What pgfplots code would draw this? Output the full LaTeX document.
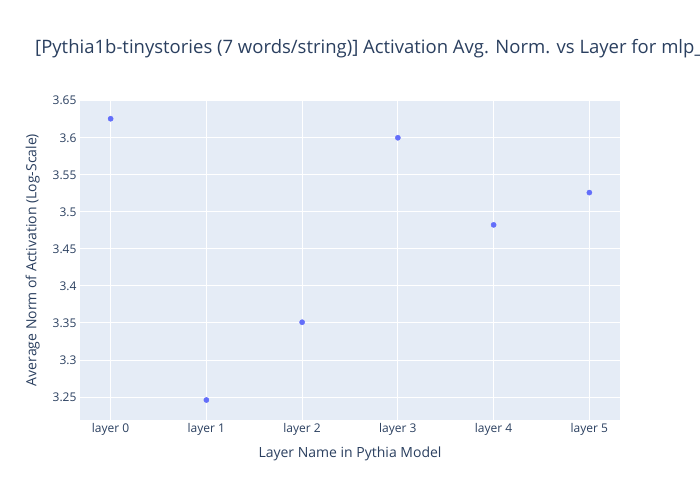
\documentclass[border=0pt]{standalone}
\usepackage{pgfplots}
\pgfplotsset{compat=1.18}
\usepackage{fontspec}
\setmainfont{Open Sans}
\definecolor{bg}{HTML}{E5ECF6}
\definecolor{pt}{HTML}{636EFA}
\definecolor{tx}{HTML}{2A3F5F}
\begin{document}
\begin{tikzpicture}[x=1pt,y=1pt]
\path[use as bounding box] (-80,-80) rectangle (620,420);
\clip (-80,-80) rectangle (620,420);
\node[anchor=base west,text=tx,font=\fontsize{18.5}{21}\selectfont,inner sep=0] at (-45,366) {[Pythia1b-tinystories (7 words/string)] Activation Avg. Norm. vs Layer for mlp\_out};
\begin{axis}[at={(0,0)},anchor=south west,scale only axis,width=540pt,height=320pt,
 axis background/.style={fill=bg}, axis line style={draw=none},
 xmin=-0.32,xmax=5.32,ymin=3.219,ymax=3.651,
 xtick={0,...,5},xticklabels={layer 0,layer 1,layer 2,layer 3,layer 4,layer 5},
 ytick={3.25,3.3,3.35,3.4,3.45,3.5,3.55,3.6,3.65},
 yticklabels={3.25,3.3,3.35,3.4,3.45,3.5,3.55,3.6,3.65},
 grid=major, major grid style={white,line width=1pt}, tick style={draw=none},
 ticklabel style={text=tx,font=\fontsize{12}{14}\selectfont},
 xlabel={Layer Name in Pythia Model}, ylabel={Average Norm of Activation (Log-Scale)},
 label style={text=tx,font=\fontsize{14}{16}\selectfont},
 xlabel style={yshift=-4pt}, ylabel style={yshift=6pt}]
\addplot[only marks,mark=*,mark size=2.6pt,color=pt] coordinates {(0,3.6257)(1,3.246)(2,3.351)(3,3.600)(4,3.4824)(5,3.526)};
\end{axis}
\end{tikzpicture}
\end{document}
